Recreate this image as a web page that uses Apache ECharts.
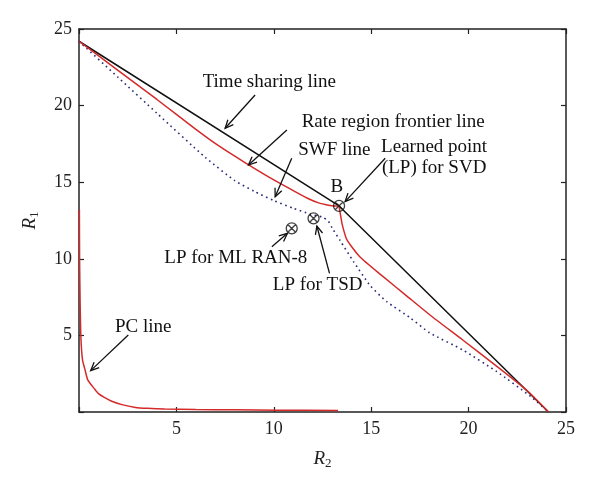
<!DOCTYPE html>
<html>
<head>
<meta charset="utf-8">
<script src="https://cdn.jsdelivr.net/npm/echarts@6/dist/echarts.min.js"></script>
<style>html,body{margin:0;padding:0;background:#fff}#c{width:600px;height:487px}</style>
</head>
<body>
<div id="c"></div>
<script>
// ---- data ----
const xTicks = [5, 10, 15, 20, 25];
const yTicks = [5, 10, 15, 20, 25];
const timeSharing = [[0, 24.2], [13.35, 13.45], [24.1, 0]];
const frontierUpper = [[0, 24.2], [2, 22.3], [4, 20.4], [6, 18.45], [7.2, 17.35], [8.5, 16.3], [10, 15.15], [11, 14.45], [11.7, 13.97], [12.3, 13.65], [12.8, 13.5], [13.1, 13.45], [13.35, 13.45]];
const frontierLower = [[13.35, 13.45], [13.42, 12.9], [13.52, 12.2], [13.75, 11.25], [14.4, 10.15], [15.6, 8.85], [16.8, 7.6], [18, 6.35], [19.7, 4.7], [21.45, 2.98], [23, 1.4], [24.1, 0]];
const swfLine = [[0, 24.2], [2, 21.85], [4, 19.5], [6.5, 16.6], [8, 15.1], [9, 14.4], [10, 13.8], [11, 13.3], [11.9, 12.9], [12.5, 12.72], [12.8, 12.45], [13.0, 12.0], [13.4, 11.2], [14.1, 9.8], [14.95, 8.25], [15.8, 7.2], [17, 6.15], [18, 5.17], [19.7, 4.05], [21.45, 2.63], [23.2, 1.0], [24.1, 0]];
const pcLine = [[0.02, 13.2], [0.03, 10], [0.06, 7], [0.1, 4.8], [0.18, 3.4], [0.3, 2.8], [0.45, 2.1], [0.8, 1.5], [1.0, 1.2], [1.3, 0.95], [1.65, 0.72], [2.2, 0.48], [2.9, 0.3], [3.5, 0.24], [4.4, 0.19], [6, 0.16], [8, 0.14], [10.2, 0.12], [13.3, 0.1]];
const learnedPoints = [[13.35, 13.45], [12.04, 12.64], [10.92, 11.99]];
// annotations: text, text anchor [x,y] (data), alignment, arrow start, arrow tip
const annotations = [
  { text: 'Time sharing line', at: [9.77, 21.56], align: 'center', from: [9.04, 20.69], to: [7.5, 18.52] },
  { text: 'Rate region frontier line', at: [16.13, 18.95], align: 'center', from: [10.67, 18.41], to: [8.7, 16.12] },
  { text: 'SWF line', at: [13.11, 17.1], align: 'center', from: [10.92, 16.56], to: [10.07, 14.05] },
  { text: 'Learned point', at: [18.23, 17.32], align: 'center', from: [15.72, 16.56], to: [13.66, 13.73] },
  { text: '(LP) for SVD', at: [18.23, 15.91], align: 'center' },
  { text: 'B', at: [13.24, 14.71], align: 'center' },
  { text: 'LP for ML RAN-8', at: [8.05, 10.03], align: 'center', from: [9.9, 10.79], to: [10.7, 11.66] },
  { text: 'LP for TSD', at: [12.25, 8.29], align: 'center', from: [12.86, 9.05], to: [12.21, 12.14] },
  { text: 'PC line', at: [3.3, 5.57], align: 'center', from: [2.53, 5.03], to: [0.6, 2.7] }
];

const FONT = 'Liberation Serif';
const RED = '#d42a2a';
const chart = echarts.init(document.getElementById('c'), null, { renderer: 'canvas' });

function axisBase() {
  return {
    min: 0, max: 25, interval: 5,
    axisLine: { show: true, onZero: false, lineStyle: { color: '#222', width: 1.5 } },
    axisTick: { show: true, inside: true, length: 5, lineStyle: { color: '#222', width: 1.2 } },
    splitLine: { show: false }
  };
}
const labelFmt = v => (xTicks.indexOf(v) >= 0 ? String(v) : '');
const labelFmtY = v => (yTicks.indexOf(v) >= 0 ? String(v) : '');
const nameRich = { i: { fontFamily: FONT, fontStyle: 'italic', fontSize: 19, color: '#222' }, s: { fontFamily: FONT, fontSize: 13, color: '#222', padding: [9, 0, 0, 0] } };

const circleX = 'path://M-10,0A10,10 0 1,1 10,0A10,10 0 1,1 -10,0ZM-7.07,-7.07L7.07,7.07M-7.07,7.07L7.07,-7.07';

chart.setOption({
  animation: false,
  backgroundColor: '#fff',
  grid: { left: 79, right: 34, top: 29, bottom: 75, containLabel: false },
  xAxis: [
    Object.assign(axisBase(), {
      type: 'value', position: 'bottom',
      name: '{i|R}{s|2}', nameLocation: 'middle', nameGap: 36,
      nameTextStyle: { rich: nameRich },
      axisLabel: { formatter: labelFmt, fontFamily: FONT, fontSize: 18, color: '#222', margin: 8 }
    }),
    Object.assign(axisBase(), { type: 'value', position: 'top', axisLabel: { show: false } })
  ],
  yAxis: [
    Object.assign(axisBase(), {
      type: 'value', position: 'left',
      name: '{i|R}{s|1}', nameLocation: 'middle', nameGap: 38,
      nameTextStyle: { rich: nameRich },
      axisLabel: { formatter: labelFmtY, fontFamily: FONT, fontSize: 18, color: '#222', margin: 7 }
    }),
    Object.assign(axisBase(), { type: 'value', position: 'right', axisLabel: { show: false } })
  ],
  series: [
    { type: 'line', data: swfLine, showSymbol: false, smooth: 0.2, lineStyle: { color: '#2b2b78', width: 1.6, type: [1.6, 3.6] } },
    { type: 'line', data: timeSharing, showSymbol: false, lineStyle: { color: '#111', width: 1.5 } },
    { type: 'line', data: frontierUpper, showSymbol: false, smooth: 0.2, lineStyle: { color: RED, width: 1.5 } },
    { type: 'line', data: frontierLower, showSymbol: false, smooth: 0.2, lineStyle: { color: RED, width: 1.5 } },
    { type: 'line', data: pcLine, showSymbol: false, smooth: 0.2, lineStyle: { color: RED, width: 1.5 } },
    { type: 'scatter', data: learnedPoints, symbol: circleX, symbolSize: 11, z: 5,
      itemStyle: { color: 'rgba(255,255,255,0)', borderColor: '#111', borderWidth: 1.3 } }
  ]
});

// annotations drawn from data coordinates through the grid's scales
const toPx = p => chart.convertToPixel({ gridIndex: 0 }, p);
const graphics = [];
annotations.forEach(a => {
  const t = toPx(a.at);
  graphics.push({ type: 'text', x: t[0], y: t[1], z: 10,
    style: { text: a.text, fontFamily: FONT, fontSize: 19, fill: '#111', textAlign: a.align, textVerticalAlign: 'middle' } });
  if (a.from) {
    const p0 = toPx(a.from), p1 = toPx(a.to);
    const ang = Math.atan2(p1[1] - p0[1], p1[0] - p0[0]);
    const L = 9, h = 0.42;
    const w1 = [p1[0] - L * Math.cos(ang - h), p1[1] - L * Math.sin(ang - h)];
    const w2 = [p1[0] - L * Math.cos(ang + h), p1[1] - L * Math.sin(ang + h)];
    graphics.push({ type: 'polyline', z: 10, shape: { points: [p0, p1] }, style: { stroke: '#111', lineWidth: 1.3, fill: null } });
    graphics.push({ type: 'polyline', z: 10, shape: { points: [w1, p1, w2] }, style: { stroke: '#111', lineWidth: 1.3, fill: null } });
  }
});
chart.setOption({ graphic: graphics });
</script>
</body>
</html>
